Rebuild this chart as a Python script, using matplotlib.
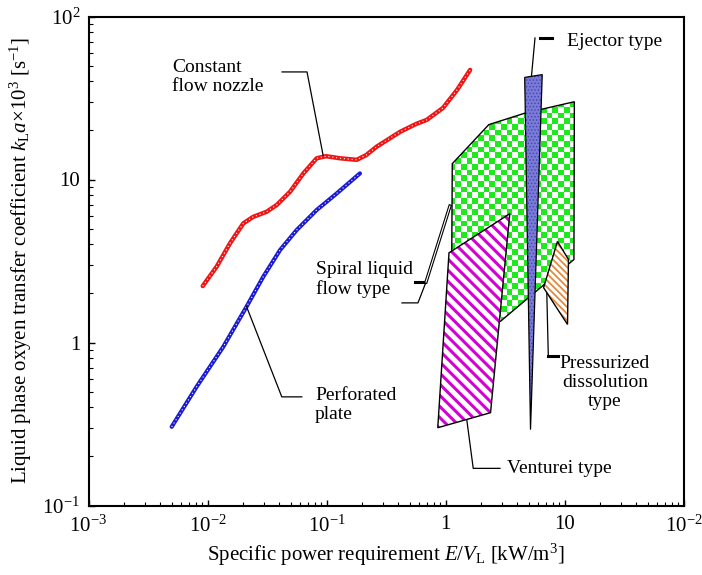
import numpy as np
import matplotlib
matplotlib.use("Agg")
import matplotlib.pyplot as plt
from matplotlib.patches import Polygon
from matplotlib.image import AxesImage
from matplotlib.colors import ListedColormap

plt.rcParams['font.family'] = ['Liberation Serif', 'DejaVu Serif']
plt.rcParams['mathtext.fontset'] = 'custom'
plt.rcParams['mathtext.rm'] = 'Liberation Serif'
plt.rcParams['mathtext.it'] = 'Liberation Serif:italic'
plt.rcParams['mathtext.bf'] = 'Liberation Serif:bold'

# ---- data ----
nozzle_x = [0.00912, 0.01194, 0.01545, 0.0200, 0.0241, 0.0314, 0.0382, 0.0494, 0.0639,
            0.0827, 0.0991, 0.1297, 0.1795, 0.215, 0.264, 0.415, 0.565, 0.695, 0.953, 1.25, 1.61]
nozzle_y = [2.22, 2.92, 4.06, 5.38, 5.89, 6.34, 6.98, 8.41, 10.9,
            13.5, 13.9, 13.5, 13.2, 14.1, 15.9, 19.6, 21.9, 23.2, 27.5, 35.4, 47.0]

plate_x = [0.00500, 0.00811, 0.01358, 0.0213, 0.0294, 0.0407, 0.0562, 0.0827, 0.122, 0.191]
plate_y = [0.304, 0.536, 0.942, 1.66, 2.53, 3.69, 4.90, 6.50, 8.22, 10.9]

spiral_x = [1.14, 2.31, 4.70, 12.1, 12.0, 2.90, 1.12]
spiral_y = [12.5, 21.7, 25.6, 30.0, 3.23, 1.35, 1.35]

venturi_x = [1.07, 3.47, 2.39, 0.861]
venturi_y = [3.55, 6.17, 0.371, 0.30]

ejector_x = [4.63, 6.50, 5.18]
ejector_y = [42.3, 44.0, 0.292]

pressurized_x = [8.73, 10.8, 10.6, 6.67]
pressurized_y = [4.17, 3.23, 1.29, 2.17]

xticks = [1e-3, 1e-2, 1e-1, 1, 10, 100]
xticklabels = ['10$^{-3}$', '10$^{-2}$', '10$^{-1}$', '1', '10', '10$^{-2}$']
yticks = [1e-1, 1, 10, 100]
yticklabels = ['10$^{-1}$', '1', '10', '10$^{2}$']

RED = '#ee1515'
BLUE = '#1a1ad2'
GREEN = '#1fe81f'
MAGENTA = '#d400d4'
ORANGE = '#e8883a'
EJECT = '#7a7ad8'

fig = plt.figure(figsize=(7.02, 5.75), dpi=100)
ax = fig.add_axes([88.5/702, 1-505.5/575, 595/702, 489/575])
ax.set_xscale('log')
ax.set_yscale('log')
ax.set_xlim(1e-3, 1e2)
ax.set_ylim(1e-1, 1e2)
ax.set_autoscale_on(False)

# Spiral liquid flow type (checkerboard)
sp_poly = Polygon(np.column_stack([spiral_x, spiral_y]), closed=True, facecolor='none',
                  edgecolor='none', zorder=2)
ax.add_patch(sp_poly)
ncx, ncy = 104, 86
checker = (np.add.outer(np.arange(ncy), np.arange(ncx)) % 2).astype(float)
im = AxesImage(ax, cmap=ListedColormap(['white', GREEN]), interpolation='nearest',
               transform=ax.transAxes, zorder=2)
im.set_data(checker)
im.set_extent((0, 1, 0, 1))
im.set_clim(0, 1)
ax.add_image(im)
im.set_clip_path(sp_poly)
ax.add_patch(Polygon(np.column_stack([spiral_x, spiral_y]), closed=True, fill=False,
                     edgecolor='black', lw=1.0, zorder=3))

def hatched(xs, ys, color, hatch, hlw, z):
    plt.rcParams['hatch.linewidth'] = hlw
    p = Polygon(np.column_stack([xs, ys]), closed=True, facecolor='white',
                edgecolor=color, hatch=hatch, lw=0, zorder=z)
    try:
        p.set_hatch_linewidth(hlw)
    except Exception:
        pass
    ax.add_patch(p)
    ax.add_patch(Polygon(np.column_stack([xs, ys]), closed=True, fill=False,
                         edgecolor='black', lw=1.0, zorder=z + 0.1))

# Venturi type
hatched(venturi_x, venturi_y, MAGENTA, '\\' * 3, 2.2, 4)
# Pressurized dissolution
hatched(pressurized_x, pressurized_y, ORANGE, '\\' * 5, 1.3, 4)

# Ejector type
plt.rcParams['hatch.linewidth'] = 0.6
ej = Polygon(np.column_stack([ejector_x, ejector_y]), closed=True, facecolor=EJECT,
             edgecolor='#4444b0', hatch='.....', lw=0, zorder=5)
ax.add_patch(ej)
ax.add_patch(Polygon(np.column_stack([ejector_x, ejector_y]), closed=True, fill=False,
                     edgecolor='black', lw=0.9, zorder=5.1))

# Curves
ax.plot(nozzle_x, nozzle_y, color=RED, lw=3.2, solid_capstyle='round',
        solid_joinstyle='round', zorder=6)
ax.plot(nozzle_x, nozzle_y, color='white', lw=0.8, ls=(0, (1, 2.5)), zorder=6.1)
ax.plot(plate_x, plate_y, color=BLUE, lw=3.0, solid_capstyle='round',
        solid_joinstyle='round', zorder=6)
ax.plot(plate_x, plate_y, color='white', lw=0.8, ls=(0, (1, 2.5)), zorder=6.1)

# Annotations
FS = 14
lk = dict(color='black', lw=0.9, zorder=7)
ax.text(0.00504, 42.5, 'Constant\nflow nozzle', fontsize=FS, ha='left', va='center',
        linespacing=1.15)
ax.plot([0.0423, 0.0686, 0.0936], [45.7, 45.7, 14.1], **lk)

ax.text(0.080, 0.414, 'Perforated\nplate', fontsize=FS, ha='left', va='center',
        linespacing=1.15)
ax.plot([0.0620, 0.0421, 0.0213], [0.464, 0.464, 1.66], **lk)

ax.text(0.0817, 2.45, 'Spiral liquid\nflow type', fontsize=FS, ha='left', va='center',
        linespacing=1.15)
ax.plot([0.431, 0.587, 0.686], [1.75, 1.75, 2.35], **lk)
ax.plot([0.686, 1.09], [2.35, 6.87], color='black', lw=2.4, zorder=7)
ax.plot([0.686, 1.09], [2.35, 6.87], color='white', lw=0.8, zorder=7.1)
ax.plot([0.555, 0.673], [2.35, 2.35], color='black', lw=2.2, zorder=7)

ax.text(3.27, 0.169, 'Venturei type', fontsize=FS, ha='left', va='center')
ax.plot([1.51, 1.71, 2.87], [0.335, 0.169, 0.169], **lk)

ax.text(10.4, 70.0, 'Ejector type', fontsize=FS, ha='left', va='center')
ax.plot([5.65, 5.28], [73.8, 43.2], **lk)
ax.plot([6.22, 7.85], [73.8, 73.8], color='black', lw=2.2, zorder=7)

ax.text(21.9, 0.565, 'Pressurized\ndissolution\ntype', fontsize=FS, ha='center',
        va='center', multialignment='center', linespacing=1.15)
ax.plot([7.31, 7.10], [0.826, 2.00], **lk)
ax.plot([7.31, 8.87], [0.826, 0.826], color='black', lw=2.2, zorder=7)

# Axes styling
for s in ax.spines.values():
    s.set_linewidth(1.5)
ax.set_xticks(xticks)
ax.set_xticklabels(xticklabels)
ax.set_yticks(yticks)
ax.set_yticklabels(yticklabels)
ax.tick_params(which='both', direction='in', top=False, right=False, labelsize=15)
ax.tick_params(which='major', length=4, width=1.0)
ax.tick_params(which='minor', length=3, width=0.8)
ax.tick_params(axis='x', which='major', pad=7)
ax.tick_params(axis='y', which='major', pad=6)

ax.set_xlabel(r'Specific power requirement $E/V_{\rm L}$ [kW/m$^3$]', fontsize=15, labelpad=4)
ax.set_ylabel(r'Liquid phase oxyen transfer coefficient $k_{\rm L}a{\times}10^3$ [s$^{-1}$]',
              fontsize=15, labelpad=6)

fig.savefig('out.png', dpi=100)
